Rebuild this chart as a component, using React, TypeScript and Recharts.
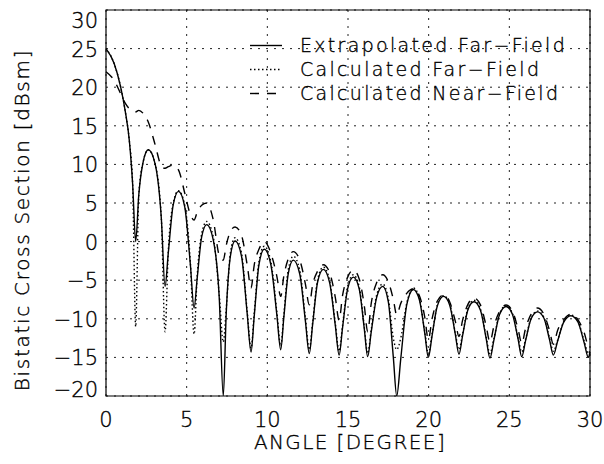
import { LineChart, Line, XAxis, YAxis, CartesianGrid, ReferenceArea } from 'recharts';

const FONT = '"DejaVu Sans", sans-serif';
const WEIGHT = 200;
// thin outline so the extra-light glyphs read like the plotter font
const TEXT_STYLE = { fill: '#000', stroke: '#000', strokeWidth: 0.35 };

// angle grid (degrees), shared by the three curves
const ANGLE = [
  0, 0.5, 0.9, 1.2, 1.45, 1.65, 1.84,
  2.03, 2.31, 2.62, 3.04, 3.43, 3.66,
  3.86, 4.16, 4.49, 4.88, 5.23, 5.46,
  5.65, 5.93, 6.24, 6.65, 7.02, 7.27,
  7.45, 7.71, 8.0, 8.4, 8.75, 8.99,
  9.19, 9.48, 9.81, 10.22, 10.59, 10.83,
  11.02, 11.3, 11.61, 12.01, 12.36, 12.6,
  12.81, 13.12, 13.47, 13.86, 14.21, 14.45,
  14.66, 14.98, 15.33, 15.69, 16.01, 16.22,
  16.44, 16.78, 17.15, 17.5, 17.81, 18.02,
  18.27, 18.64, 19.05, 19.42, 19.76, 19.98,
  20.21, 20.54, 20.92, 21.3, 21.65, 21.88,
  22.1, 22.44, 22.81, 23.21, 23.56, 23.8,
  24.04, 24.4, 24.8, 25.19, 25.54, 25.77,
  26.0, 26.35, 26.74, 27.14, 27.49, 27.73,
  27.99, 28.38, 28.81, 29.25, 29.64, 29.9,
  30,
];

// Extrapolated Far-Field (solid)
const EXTRAPOLATED_FF = [
  25.0, 23.1, 20.1, 16.8, 13.0, 7.5, 0.0,
  6.0, 10.4, 11.9, 10.1, 3.0, -5.8,
  -1.5, 4.7, 6.5, 4.5, -3.0, -8.6,
  -4.8, 0.6, 2.2, 0.2, -7.3, -20.0,
  -9.4, -1.9, 0.1, -1.9, -9.3, -14.3,
  -9.6, -3.0, -1.0, -3.0, -9.5, -14.0,
  -9.9, -4.1, -2.4, -4.2, -10.3, -14.5,
  -10.7, -5.2, -3.6, -5.3, -10.8, -14.7,
  -11.2, -6.1, -4.6, -6.1, -11.3, -14.9,
  -11.7, -7.2, -5.8, -7.8, -15.0, -20.0,
  -15.2, -8.2, -6.2, -7.5, -11.9, -15.0,
  -12.2, -8.3, -7.1, -8.2, -12.0, -14.6,
  -12.2, -8.8, -7.8, -8.9, -12.5, -15.1,
  -12.8, -9.4, -8.4, -9.4, -12.6, -14.9,
  -12.9, -10.0, -9.1, -9.9, -12.7, -14.7,
  -12.9, -10.4, -9.6, -10.4, -13.1, -15.0,
  -14.3,
];

// Calculated Far-Field (dotted)
const CALCULATED_FF = [
  25.0, 23.1, 20.1, 16.8, 13.0, 7.5, -11.0,
  6.0, 10.4, 11.9, 10.1, 3.0, -11.7,
  -1.3, 4.9, 6.6, 4.7, -2.7, -12.0,
  -4.5, 1.0, 2.6, 0.6, -6.9, -13.0,
  -8.8, -1.5, 0.5, -1.5, -9.0, -13.8,
  -9.2, -2.6, -0.6, -2.6, -9.1, -13.5,
  -9.5, -3.6, -1.9, -3.7, -9.9, -14.0,
  -10.4, -4.9, -3.3, -5.0, -10.5, -14.2,
  -10.9, -5.8, -4.3, -5.8, -11.0, -14.5,
  -11.4, -6.9, -5.5, -7.4, -12.5, -14.0,
  -12.5, -8.0, -6.0, -7.3, -11.7, -14.5,
  -12.0, -8.2, -7.0, -8.0, -11.8, -14.0,
  -12.0, -8.6, -7.6, -8.7, -12.3, -14.5,
  -12.6, -9.3, -8.3, -9.3, -12.4, -14.3,
  -12.7, -9.9, -9.0, -9.8, -12.5, -14.2,
  -12.8, -10.3, -9.5, -10.3, -12.9, -14.5,
  -14.0,
];

// Calculated Near-Field (dashed)
const CALCULATED_NF = [
  22.0, 20.9, 19.2, 17.9, 17.2, 16.9, 16.8,
  17.0, 16.6, 15.5, 12.6, 9.8, 9.5,
  9.7, 9.9, 9.3, 6.3, 3.5, 2.8,
  3.8, 4.7, 5.0, 2.8, -1.8, -2.4,
  -0.5, 1.3, 1.9, 0.8, -3.0, -6.0,
  -3.0, -1.0, 0.0, -1.5, -4.5, -7.1,
  -4.5, -2.2, -1.3, -2.4, -5.5, -8.2,
  -5.6, -3.8, -3.0, -4.0, -7.2, -10.2,
  -7.0, -4.6, -3.7, -4.8, -8.3, -11.7,
  -8.0, -5.3, -4.3, -5.2, -7.5, -9.5,
  -8.0, -6.7, -6.1, -7.0, -9.8, -12.7,
  -10.0, -7.7, -6.9, -7.8, -10.3, -12.3,
  -10.2, -8.1, -7.3, -8.2, -10.9, -13.0,
  -11.0, -9.0, -8.2, -9.0, -11.3, -13.2,
  -11.3, -9.4, -8.6, -9.4, -11.5, -13.3,
  -11.5, -10.1, -9.4, -10.1, -11.8, -13.4,
  -13.0,
];

const X_TICKS = [0, 5, 10, 15, 20, 25, 30];
const Y_TICKS = [-20, -15, -10, -5, 0, 5, 10, 15, 20, 25, 30];

const SERIES = [
  { key: 'nf', name: 'Calculated Near\u2212Field', dash: '9 8' },
  { key: 'ff', name: 'Calculated Far\u2212Field', dash: '1.5 2.5' },
  { key: 'ex', name: 'Extrapolated Far\u2212Field', dash: undefined },
];

const data = ANGLE.map((a, i) => ({
  angle: a,
  ex: EXTRAPOLATED_FF[i],
  ff: CALCULATED_FF[i],
  nf: CALCULATED_NF[i],
}));

const fmt = (v: number) => (v < 0 ? '\u2212' + Math.abs(v) : String(v));

function XTick({ x, y, payload }: any) {
  return (
    <text x={x} y={y + 31} textAnchor="middle" fontFamily={FONT} fontWeight={WEIGHT} fontSize={21} {...TEXT_STYLE}>
      {fmt(payload.value)}
    </text>
  );
}

function YTick({ x, y, payload }: any) {
  // end labels are pulled inside the frame
  let dy = 8;
  if (payload.value === 30) dy = 18;
  if (payload.value === -20) dy = 1;
  return (
    <text x={x - 8} y={y + dy} textAnchor="end" fontFamily={FONT} fontWeight={WEIGHT} fontSize={21} {...TEXT_STYLE}>
      {fmt(payload.value)}
    </text>
  );
}

function YTitle() {
  return (
    <text transform="rotate(-90)" x={-220} y={29} textAnchor="middle" fontFamily={FONT} fontWeight={WEIGHT}
      fontSize={20} letterSpacing={1.7} {...TEXT_STYLE}>
      Bistatic Cross Section [dBsm]
    </text>
  );
}

function XTitle() {
  return (
    <text x={350} y={449} textAnchor="middle" fontFamily={FONT} fontWeight={WEIGHT} fontSize={20}
      letterSpacing={1.4} {...TEXT_STYLE}>
      ANGLE [DEGREE]
    </text>
  );
}

function LegendBox() {
  const rows = [SERIES[2], SERIES[1], SERIES[0]];
  return (
    <svg width={604} height={464} style={{ position: 'absolute', left: 0, top: 0, pointerEvents: 'none' }}>
      {rows.map((s, i) => {
        const cy = 45.5 + i * 24;
        return (
          <g key={s.key}>
            <line x1={250} x2={282} y1={cy} y2={cy} stroke="#000" strokeWidth={1.4} strokeDasharray={s.dash} />
            <text x={300} y={cy + 6.5} fontFamily={FONT} fontWeight={WEIGHT} fontSize={19} letterSpacing={2.3} {...TEXT_STYLE}>
              {s.name}
            </text>
          </g>
        );
      })}
    </svg>
  );
}

export default function App() {
  return (
    <div style={{ position: 'absolute', left: 0, top: 0, width: 604, height: 464, background: '#fff' }}>
      <LineChart width={604} height={464} data={data} margin={{ top: 10, right: 14, bottom: 0, left: 0 }}>
        <CartesianGrid stroke="#222" strokeDasharray="2 6" strokeWidth={1} />
        <XAxis dataKey="angle" type="number" domain={[0, 30]} ticks={X_TICKS} height={68}
          axisLine={false} tickLine={false} tickSize={0} tickMargin={0} tick={<XTick />}
          label={<XTitle />} />
        <YAxis type="number" domain={[-20, 30]} ticks={Y_TICKS} width={106} allowDataOverflow
          axisLine={false} tickLine={false} tickSize={0} tickMargin={0} tick={<YTick />}
          label={<YTitle />} />
        <ReferenceArea x1={0} x2={30} y1={-20} y2={30} fill="none" stroke="#000" strokeWidth={1.2} ifOverflow="visible" />
        {SERIES.map((s) => (
          <Line key={s.key} dataKey={s.key} name={s.name} type="monotone" stroke="#000"
            strokeWidth={1.4} strokeDasharray={s.dash} dot={false} activeDot={false}
            isAnimationActive={false} />
        ))}
      </LineChart>
      <LegendBox />
    </div>
  );
}
